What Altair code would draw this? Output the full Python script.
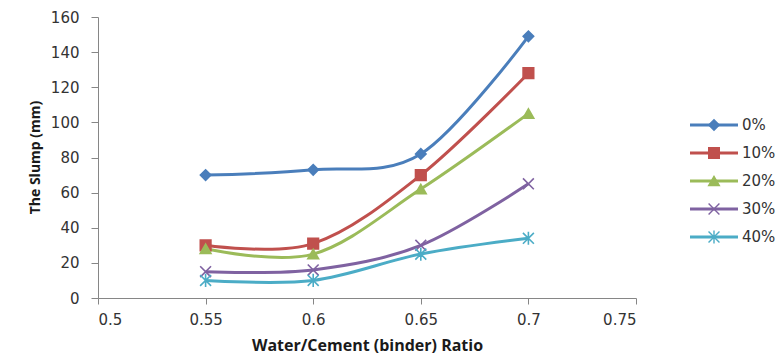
import altair as alt
import pandas as pd

# Slump test results by binder replacement level
ratio = [0.55, 0.6, 0.65, 0.7]
series_names = ["0%", "10%", "20%", "30%", "40%"]
slump_0 = [70, 73, 82, 149]
slump_10 = [30, 31, 70, 128]
slump_20 = [28, 25, 62, 105]
slump_30 = [15, 16, 30, 65]
slump_40 = [10, 10, 25, 34]

x_ticks = [0.5, 0.55, 0.6, 0.65, 0.7, 0.75]
y_ticks = [0, 20, 40, 60, 80, 100, 120, 140, 160]

colors = ["#4A7EBB", "#C0504D", "#9BBB59", "#7F62A1", "#4BACC6"]
shapes = [
    "diamond",
    "square",
    "triangle-up",
    "M-1,-1L1,1M-1,1L1,-1",
    "M-1,-1L1,1M-1,1L1,-1M0,-1.2L0,1.2",
]
sizes = [110, 120, 130, 120, 120]

rows = []
for name, vals in zip(series_names, [slump_0, slump_10, slump_20, slump_30, slump_40]):
    for r, v in zip(ratio, vals):
        rows.append({"ratio": r, "slump": v, "series": name})
df = pd.DataFrame(rows)
legend_df = pd.DataFrame({"series": series_names})

color_scale = alt.Scale(domain=series_names, range=colors)
shape_scale = alt.Scale(domain=series_names, range=shapes)
size_scale = alt.Scale(domain=series_names, range=sizes)

FONT_TICK = "DejaVu Sans"
FONT_TITLE = "Open Sans"

x_enc = alt.X(
    "ratio:Q",
    scale=alt.Scale(domain=[0.5, 0.75], nice=False, zero=False),
    axis=alt.Axis(
        values=x_ticks,
        format="~g",
        title="Water/Cement (binder) Ratio",
        titleFont=FONT_TITLE,
        titleFontSize=16,
        titleFontWeight="bold",
        titleColor="#1a1a1a",
        titleY=47,
        titleBaseline="middle",
    ),
)
y_enc = alt.Y(
    "slump:Q",
    scale=alt.Scale(domain=[0, 160], nice=False),
    axis=alt.Axis(
        values=y_ticks,
        title="The Slump (mm)",
        titleFont=FONT_TITLE,
        titleFontSize=14,
        titleFontWeight="bold",
        titleColor="#1a1a1a",
        titleX=-63,
        titleY=140,
        titleAngle=-90,
        titleAlign="center",
        titleBaseline="middle",
        labelPadding=12,
        tickSize=7,
    ),
)

base = alt.Chart(df)

lines = base.mark_line(interpolate="cardinal", strokeWidth=3).encode(
    x=x_enc,
    y=y_enc,
    color=alt.Color("series:N", scale=color_scale, legend=None),
    detail="series:N",
)

points = base.mark_point(filled=False, opacity=1, strokeWidth=1.6).encode(
    x=x_enc,
    y=y_enc,
    color=alt.Color("series:N", scale=color_scale, legend=None),
    fill=alt.Fill("series:N", scale=color_scale, legend=None),
    shape=alt.Shape("series:N", scale=shape_scale, legend=None),
    size=alt.Size("series:N", scale=size_scale, legend=None),
)

main = alt.layer(lines, points)

# Legend drawn to the right of the plot: line segment, marker, label,
# stacked in series order
leg_y = alt.Y(
    "entry:Q",
    scale=alt.Scale(domain=[1, 5], range=[108, 220], nice=False, zero=False),
    axis=None,
)
leg_base = alt.Chart(legend_df).transform_window(entry="row_number()")
leg_line = leg_base.mark_rule(strokeWidth=3).encode(
    x=alt.value(592),
    x2=alt.value(640),
    y=leg_y,
    color=alt.Color("series:N", scale=color_scale, legend=None),
)
leg_point = leg_base.mark_point(filled=False, opacity=1, strokeWidth=1.4).encode(
    x=alt.value(616),
    y=leg_y,
    color=alt.Color("series:N", scale=color_scale, legend=None),
    fill=alt.Fill("series:N", scale=color_scale, legend=None),
    shape=alt.Shape("series:N", scale=shape_scale, legend=None),
    size=alt.Size("series:N", scale=size_scale, legend=None),
)
leg_text = leg_base.mark_text(
    align="left", baseline="middle", font=FONT_TICK, fontSize=15, color="#333333"
).encode(x=alt.value(644), y=leg_y, text="series:N")

legend = alt.layer(leg_line, leg_point, leg_text)

chart = (
    alt.layer(main, legend)
    .resolve_scale(y="independent")
    .properties(
        width=538,
        height=281,
        autosize=alt.AutoSizeParams(type="none"),
        padding={"left": 98, "top": 17, "right": 145, "bottom": 60},
        background="white",
    )
    .configure_view(stroke=None)
    .configure_axis(
        grid=False,
        domainColor="#868686",
        tickColor="#868686",
        tickSize=6,
        labelFont=FONT_TICK,
        labelFontSize=15,
        labelColor="#333333",
        labelPadding=8,
    )
)

chart.save("out.html", embed_options={"renderer": "svg", "actions": False})
